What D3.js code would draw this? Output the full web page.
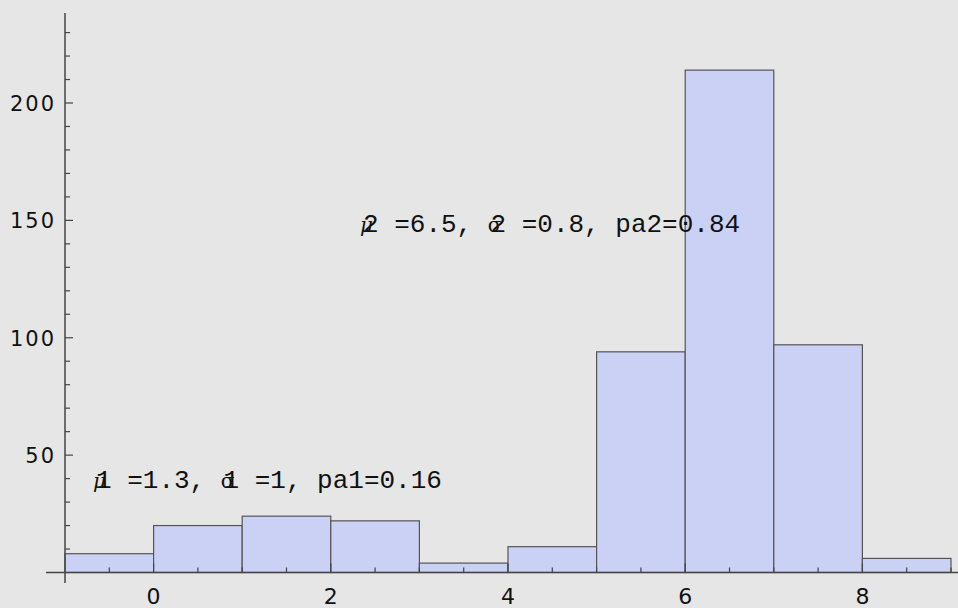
<!DOCTYPE html>
<html><head><meta charset="utf-8">
<script src="https://cdn.jsdelivr.net/npm/d3@7/dist/d3.min.js"></script>
<style>html,body{margin:0;padding:0;background:#e6e6e6;}svg{display:block;}</style>
</head><body>
<svg id="c" width="958" height="608"></svg>
<script>
const binStarts = [-1, 0, 1, 2, 3, 4, 5, 6, 7, 8];
const counts = [8, 20, 24, 22, 4, 11, 94, 214, 97, 6];
const binWidth = 1;
const xTickLabels = [0, 2, 4, 6, 8];
const yTickLabels = [50, 100, 150, 200];
const annotations = [
  {mu: "\u03bc", sigma: "\u03c3", idx: "1", meanTxt: " =1.3, ", sdTxt: " =1, ", pa: "pa1=0.16"},
  {mu: "\u03bc", sigma: "\u03c3", idx: "2", meanTxt: " =6.5, ", sdTxt: " =0.8, ", pa: "pa2=0.84"}
];

const svg = d3.select("#c");
const W = 958, H = 608;
svg.append("rect").attr("width", W).attr("height", H).attr("fill", "#e6e6e6");

const x = d3.scaleLinear().domain([-1, 9]).range([65, 951]);
const y = d3.scaleLinear().domain([0, 200]).range([572.5, 103]);

// bars
svg.append("g").selectAll("rect").data(binStarts).join("rect")
  .attr("x", (d) => x(d))
  .attr("width", (d) => x(d + binWidth) - x(d))
  .attr("y", (d, i) => y(counts[i]))
  .attr("height", (d, i) => y(0) - y(counts[i]))
  .attr("fill", "#cbd0f5")
  .attr("stroke", "#555")
  .attr("stroke-width", 1.2);

const axisColor = "#444";
svg.append("line").attr("x1", 46).attr("x2", 958).attr("y1", y(0)).attr("y2", y(0))
  .attr("stroke", axisColor).attr("stroke-width", 1.5);
svg.append("line").attr("x1", x(-1)).attr("x2", x(-1)).attr("y1", 13).attr("y2", 583)
  .attr("stroke", axisColor).attr("stroke-width", 1.5);

// x ticks (inward)
const xMinor = d3.range(-0.5, 9.01, 0.5);
svg.append("g").selectAll("line").data(xMinor).join("line")
  .attr("x1", (d) => x(d)).attr("x2", (d) => x(d))
  .attr("y1", y(0)).attr("y2", (d) => y(0) - (xTickLabels.includes(d) ? 9 : 5))
  .attr("stroke", axisColor).attr("stroke-width", 1.2);
svg.append("g").selectAll("text").data(xTickLabels).join("text")
  .attr("x", (d) => x(d)).attr("y", 604)
  .attr("text-anchor", "middle")
  .attr("font-family", "DejaVu Sans").attr("font-size", 22)
  .attr("fill", "#111")
  .text((d) => d);

// y ticks (inward)
const yMinor = d3.range(10, 231, 10);
svg.append("g").selectAll("line").data(yMinor).join("line")
  .attr("x1", x(-1)).attr("x2", (d) => x(-1) + (yTickLabels.includes(d) ? 8 : 5))
  .attr("y1", (d) => y(d)).attr("y2", (d) => y(d))
  .attr("stroke", axisColor).attr("stroke-width", 1.2);
svg.append("g").selectAll("text").data(yTickLabels).join("text")
  .attr("x", 56).attr("y", (d) => y(d) + 8)
  .attr("text-anchor", "end")
  .attr("font-family", "DejaVu Sans").attr("font-size", 21)
  .attr("letter-spacing", 2)
  .attr("fill", "#111")
  .text((d) => d);

// annotations (greek letter printed underneath its index digit, as in the reference)
const annX = [93, 360];
const annY = [488, 232];
annotations.forEach((a, i) => {
  const t = svg.append("text")
    .attr("x", annX[i]).attr("y", annY[i])
    .attr("font-family", "Liberation Mono").attr("font-size", 26)
    .attr("fill", "#111");
  t.append("tspan").attr("font-family", "DejaVu Serif").attr("font-style", "italic")
    .attr("font-size", 20).attr("letter-spacing", -10).text(a.mu);
  t.append("tspan").text(a.idx + a.meanTxt);
  t.append("tspan").attr("font-family", "DejaVu Serif").attr("font-size", 20)
    .attr("letter-spacing", -11).text(a.sigma);
  t.append("tspan").text(a.idx + a.sdTxt + a.pa);
});
</script>
</body></html>
